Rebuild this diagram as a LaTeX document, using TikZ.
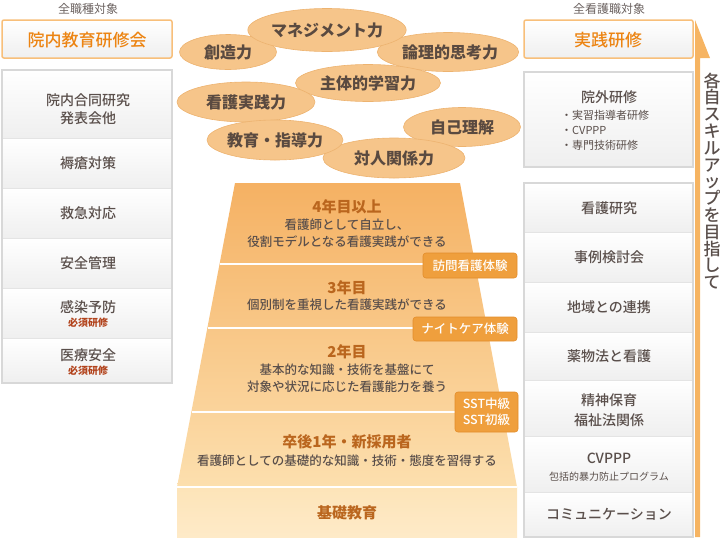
\documentclass[tikz,border=0pt]{standalone}
\usepackage{fontspec}
\setmainfont{Noto Sans CJK JP}
\newfontfamily\jpm{Noto Sans CJK JP Medium}
\usetikzlibrary{shapes.geometric}
\newcommand\fsz[2]{\fontsize{#1}{#2}\selectfont}
\definecolor{txt}{HTML}{5A4F4B}
\definecolor{hdrC}{HTML}{EC8412}
\definecolor{hdrD}{HTML}{F8BF7A}
\definecolor{capC}{HTML}{6B6260}
\definecolor{reqC}{HTML}{B2431C}
\definecolor{ellC}{HTML}{F6C58A}
\definecolor{ellD}{HTML}{EDB370}
\definecolor{ellT}{HTML}{5A4A40}
\definecolor{pyrT}{HTML}{BA661E}
\definecolor{pyrTop}{HTML}{F5B163}
\definecolor{pyrBot}{HTML}{FCDFAE}
\definecolor{baseTop}{HTML}{FDE4B8}
\definecolor{baseBot}{HTML}{FEEAC8}
\definecolor{tagC}{HTML}{EF9F3D}
\definecolor{tagD}{HTML}{E38D2B}
\definecolor{rowB}{HTML}{EFEFEF}
\definecolor{boxD}{HTML}{D8D8D8}
\definecolor{sepC}{HTML}{E4E4E4}
\definecolor{arrC}{HTML}{F6B462}
\begin{document}
\begin{tikzpicture}[x=1pt,y=-1pt,
  lbl/.style={font=\jpm\fsz{14}{18}, text=txt, align=center, inner sep=0pt},
  req/.style={font=\bfseries\fsz{10}{12}, text=reqC, inner sep=0pt},
  smalltxt/.style={font=\fsz{10}{12}, text=txt, inner sep=0pt},
  bullet/.style={font=\fsz{11}{13}, text=txt, inner sep=0pt, anchor=west},
  captxt/.style={font=\fsz{12}{14}, text=capC, inner sep=0pt},
  hdr/.style={font=\jpm\fsz{17}{20}, text=hdrC, inner sep=0pt},
  hdrbox/.style={draw=hdrD, line width=1.5pt, rounded corners=2pt, top color=white, bottom color=rowB},
  ell/.style={ellipse, fill=ellC, draw=ellD, line width=0.6pt, font=\bfseries\fsz{16}{18}, text=ellT, inner sep=0pt},
  pyt/.style={font=\bfseries\fsz{15}{18}, text=pyrT, inner sep=0pt},
  pyb/.style={font=\jpm\fsz{12.5}{17}, text=txt, align=center, inner sep=0pt},
  tagbox/.style={rounded corners=3pt, fill=tagC, draw=tagD, line width=0.6pt, text=white, font=\jpm\fsz{12.5}{17}, align=center, inner sep=0pt},
  rowshade/.style={top color=white, bottom color=rowB},
  boxline/.style={draw=boxD, line width=1.5pt},
  sepline/.style={draw=sepC, line width=1pt},
  whiteline/.style={draw=white, line width=1.5pt},
]
\useasboundingbox (0,0) rectangle (720,547);

% ---------- left column ----------
\node[captxt] (capL) at (88,9) {全職種対象};
\path[hdrbox] (2,20) rectangle (172,58);
\node[hdr] (hdrL) at (87,40) {院内教育研修会};

\foreach \a/\b in {70/138,138/188,188/238,238/288,288/338,338/383}
  \shade[rowshade] (2,\a) rectangle (172,\b);
\foreach \s in {138,188,238,288,338}
  \draw[sepline] (3,\s) -- (171,\s);
\draw[boxline] (2,70) rectangle (172,383);

\node[lbl] (l1) at (88,109) {院内合同研究\\発表会他};
\node[lbl] (l2) at (88,163) {褥瘡対策};
\node[lbl] (l3) at (88,213) {救急対応};
\node[lbl] (l4) at (88,263) {安全管理};
\node[lbl] (l5) at (88,307) {感染予防};
\node[req] (l5r) at (88,323) {必須研修};
\node[lbl] (l6) at (88,355) {医療安全};
\node[req] (l6r) at (88,371) {必須研修};

% ---------- right column ----------
\node[captxt] (capR) at (609,9) {全看護職対象};
\path[hdrbox] (524,20) rectangle (693,58);
\node[hdr] (hdrR) at (608,40) {実践研修};

\shade[rowshade] (524,72) rectangle (693,167);
\draw[boxline] (524,72) rectangle (693,167);
\node[lbl] (r0) at (609,97) {院外研修};
\node[bullet] (r0a) at (561,115) {・実習指導者研修};
\node[bullet] (r0b) at (561,130) {・CVPPP};
\node[bullet] (r0c) at (561,145) {・専門技術研修};

\foreach \a/\b in {183/232,232/282,282/332,332/380,380/436,436/492,492/537}
  \shade[rowshade] (524,\a) rectangle (693,\b);
\foreach \s in {232,282,332,380,436,492}
  \draw[sepline] (525,\s) -- (692,\s);
\draw[boxline] (524,183) rectangle (693,537);

\node[lbl] (r1) at (609,208) {看護研究};
\node[lbl] (r2) at (609,257) {事例検討会};
\node[lbl] (r3) at (609,307) {地域との連携};
\node[lbl, font=\jpm\fsz{14}{20}] (r5) at (609,356) {薬物法と看護};
\node[lbl, font=\jpm\fsz{14}{20}] (r6) at (609,410) {精神保育\\福祉法関係};
\node[lbl] (r7) at (609,458) {CVPPP};
\node[smalltxt] (r7s) at (609,477) {包括的暴力防止プログラム};
\node[lbl] (r8) at (609,514) {コミュニケーション};

% ---------- arrow ----------
\fill[arrC] (695,20) -- (710,58) -- (700,58) -- (700,537) -- (695,537) -- cycle;
\node[font=\jpm\fsz{17}{16.8}, text=txt, align=center, inner sep=0pt] (vt) at (712,181)
  {各\\自\\ス\\キ\\ル\\ア\\ッ\\プ\\を\\目\\指\\し\\て};

% ---------- pyramid ----------
\shade[top color=pyrTop, bottom color=pyrBot] (235,183) -- (460,183) -- (517,487) -- (177,487) -- cycle;
\shade[top color=baseTop, bottom color=baseBot] (177,487) rectangle (517,537);
\draw[whiteline] (219.7,264) -- (475.3,264);
\draw[whiteline] (207.6,328) -- (487.4,328);
\draw[whiteline] (191.7,412) -- (503.3,412);
\draw[whiteline] (177,487) -- (517,487);

\node[pyt] (p4) at (347,207) {4年目以上};
\node[pyb] (p4b) at (347,233) {看護師として自立し、\\役割モデルとなる看護実践ができる};
\node[pyt] (p3) at (347,288) {3年目};
\node[pyb] (p3b) at (347,305) {個別制を重視した看護実践ができる};
\node[pyt] (p2) at (347,352) {2年目};
\node[pyb] (p2b) at (347,378) {基本的な知識・技術を基盤にて\\対象や状況に応じた看護能力を養う};
\node[pyt] (p1) at (347,442) {卒後1年・新採用者};
\node[pyb] (p1b) at (347,461) {看護師としての基礎的な知識・技術・態度を習得する};
\node[pyt] (p0) at (347,513) {基礎教育};

\node[tagbox, minimum width=94pt, minimum height=25pt] (t1) at (470,265.5) {訪問看護体験};
\node[tagbox, minimum width=104pt, minimum height=24pt] (t2) at (465,329) {ナイトケア体験};
\node[tagbox, minimum width=63pt, minimum height=40pt, font=\jpm\fsz{12.5}{16}] (t3) at (486.5,412) {SST中級\\SST初級};

% ---------- ellipses ----------
\node[ell, minimum width=97pt, minimum height=35pt] (e1) at (228,52) {創造力};
\node[ell, minimum width=140pt, minimum height=39pt] (e3) at (448,52) {\hspace*{4pt}論理的思考力};
\node[ell, minimum width=150pt, minimum height=43pt] (e2) at (327,30) {マネジメント力};
\node[ell, minimum width=145pt, minimum height=37pt] (e4) at (368,83) {主体的学習力};
\node[ell, minimum width=138pt, minimum height=40pt] (e5) at (246,102) {看護実践力};
\node[ell, minimum width=117pt, minimum height=39pt] (e6) at (462,127) {自己理解};
\node[ell, minimum width=142pt, minimum height=40pt] (e8) at (394,158) {対人関係力};
\node[ell, minimum width=136pt, minimum height=40pt] (e7) at (275,140) {教育・指導力};
\end{tikzpicture}
\end{document}
